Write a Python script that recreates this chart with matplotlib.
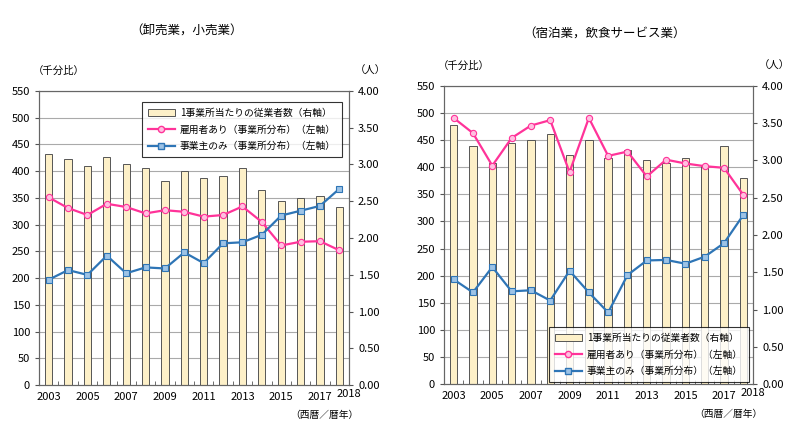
import matplotlib
matplotlib.use("Agg")
import matplotlib.pyplot as plt
from matplotlib.patches import Patch
from matplotlib.lines import Line2D
from matplotlib.ticker import FormatStrFormatter

plt.rcParams['font.family'] = ['Noto Sans CJK JP', 'DejaVu Sans']

years = list(range(2003, 2019))

# 卸売業，小売業
ws_workers = [3.14, 3.07, 2.975, 3.10, 3.01, 2.95, 2.77, 2.91, 2.81, 2.84, 2.95, 2.65, 2.50, 2.55, 2.57, 2.42]
ws_employer = [351, 331, 318, 339, 333, 321, 327, 324, 315, 318, 334, 305, 261, 268, 269, 252]
ws_owner = [197, 215, 206, 242, 209, 220, 218, 248, 228, 265, 267, 281, 317, 326, 335, 367]

# 宿泊業，飲食サービス業
hf_workers = [3.47, 3.20, 2.96, 3.24, 3.28, 3.35, 3.08, 3.27, 3.04, 3.14, 3.01, 2.96, 3.04, 2.93, 3.20, 2.76]
hf_employer = [491, 463, 403, 454, 477, 487, 391, 491, 421, 429, 383, 414, 407, 402, 399, 349]
hf_owner = [193, 169, 216, 171, 173, 154, 209, 169, 132, 201, 228, 229, 222, 235, 260, 312]

xlabels = ['2003', '2005', '2007', '2009', '2011', '2013', '2015', '2017']
legend_labels = ['1事業所当たりの従業者数（右軸）', '雇用者あり（事業所分布）（左軸）', '事業主のみ（事業所分布）（左軸）']

PINK = '#ff3399'
BLUE = '#2e75b6'
BAR = '#fdf0c8'


def draw(rect, title, title_xy, workers, employer, owner, legend_box):
    ax2 = fig.add_axes(rect)
    ax1 = ax2.twinx()
    # bars on the right axis, lines on the left axis drawn above them
    ax2.yaxis.tick_right()
    ax1.yaxis.tick_left()
    ax1.set_zorder(ax2.get_zorder() + 1)
    ax1.patch.set_visible(False)

    for v in range(50, 551, 50):
        ax2.axhline(v * 4 / 550, color='#aaaaaa', lw=0.8, zorder=0)
    ax2.bar(years, workers, width=0.38, color=BAR, edgecolor='#555555', lw=0.7, zorder=2)
    ax2.set_ylim(0, 4)
    ax2.set_yticks([i * 0.5 for i in range(9)])
    ax2.yaxis.set_major_formatter(FormatStrFormatter('%.2f'))

    ax1.plot(years, employer, color=PINK, lw=1.6, marker='o', ms=4.5,
             mfc='#ffc0e0', mec=PINK, mew=0.8)
    ax1.plot(years, owner, color=BLUE, lw=1.6, marker='s', ms=4.5,
             mfc='#9dc3e6', mec=BLUE, mew=0.8)
    ax1.set_ylim(0, 550)
    ax1.set_yticks(range(0, 551, 50))
    ax1.set_xlim(2002.5, 2018.5)

    for a in (ax1, ax2):
        a.tick_params(axis='y', labelsize=8, length=3, direction='out', color='#555555')
        for s in a.spines.values():
            s.set_color('#666666')
    ax2.set_xticks([int(x) for x in xlabels])
    ax2.set_xticklabels(xlabels)
    ax2.set_xticks([y + 0.5 for y in years[:-1]], minor=True)
    ax2.tick_params(axis='x', which='major', length=0, labelsize=8, pad=5)
    ax2.tick_params(axis='x', which='minor', length=3, direction='in', color='#555555')
    ax1.tick_params(axis='x', length=0)

    ax2.text(1.0, -0.012, '2018', transform=ax2.transAxes, fontsize=8, ha='center', va='top')
    ax2.text(1.03, -0.085, '（西暦／暦年）', transform=ax2.transAxes, fontsize=7,
             ha='right', va='top')
    ax2.text(-0.02, 1.05, '（千分比）', transform=ax2.transAxes, fontsize=7.5,
             ha='left', va='bottom')
    ax2.text(1.02, 1.05, '（人）', transform=ax2.transAxes, fontsize=7.5,
             ha='left', va='bottom')
    fig.text(title_xy[0], title_xy[1], title, fontsize=9, ha='center', va='center')

    handles = [Patch(facecolor=BAR, edgecolor='#555555', lw=0.7),
               Line2D([], [], color=PINK, lw=1.6, marker='o', ms=4.5, mfc='#ffc0e0', mec=PINK),
               Line2D([], [], color=BLUE, lw=1.6, marker='s', ms=4.5, mfc='#9dc3e6', mec=BLUE)]
    leg = ax1.legend(handles, legend_labels, loc='upper left', bbox_to_anchor=legend_box,
                     bbox_transform=fig.transFigure, fontsize=7, frameon=True, fancybox=False,
                     handlelength=2.8, borderpad=0.6, labelspacing=0.7, handletextpad=0.5)
    leg.get_frame().set_edgecolor('black')
    leg.get_frame().set_linewidth(0.8)


fig = plt.figure(figsize=(8, 4.23), dpi=100)
draw([39 / 800, 1 - 385 / 423, 310 / 800, 294 / 423], '（卸売業，小売業）', (187 / 800, 1 - 31 / 423),
     ws_workers, ws_employer, ws_owner, (137 / 800, 1 - 97 / 423))
draw([444 / 800, 1 - 384 / 423, 309 / 800, 298 / 423], '（宿泊業，飲食サービス業）', (605 / 800, 1 - 34 / 423),
     hf_workers, hf_employer, hf_owner, (544 / 800, 1 - 322 / 423))

fig.savefig('out.png', dpi=100)
